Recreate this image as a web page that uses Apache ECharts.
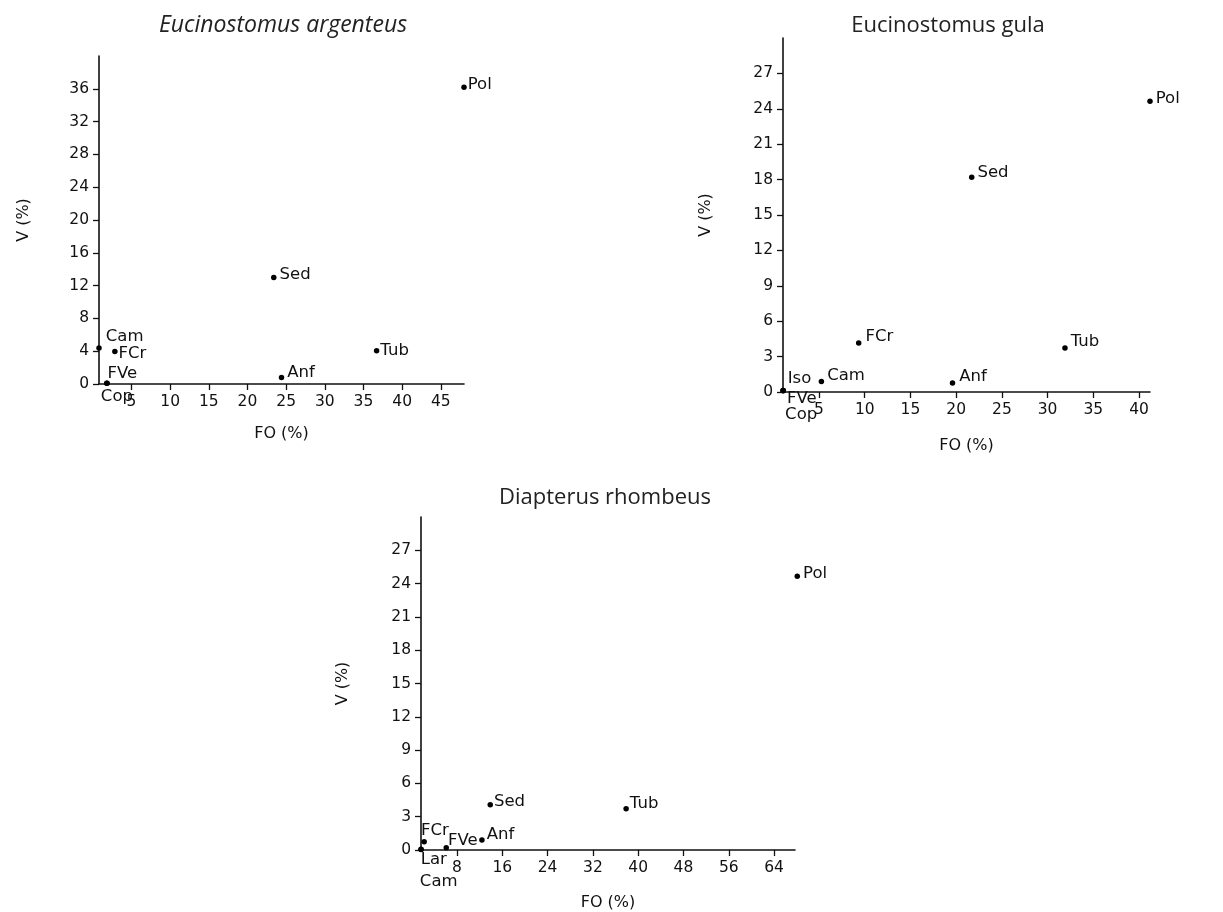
<!DOCTYPE html>
<html>
<head>
<meta charset="utf-8">
<script src="https://cdn.jsdelivr.net/npm/echarts@6/dist/echarts.min.js"></script>
<style>
html,body{margin:0;padding:0;background:#fff;}
#c{width:1223px;height:912px;}
</style>
</head>
<body>
<div id="c"></div>
<script>
// ---- Data ----
const argNames = ['Pol','Sed','Tub','Anf','Cam','FCr','FVe','Cop'];
const argFO    = [48.0, 23.4, 36.7, 24.4, 0.8, 2.85, 1.8, 1.85];
const argV     = [36.2, 13.0, 4.07, 0.8, 4.4, 3.95, 0.1, 0.08];

const gulaNames = ['Pol','Sed','FCr','Tub','Cam','Anf','Iso','FVe','Cop'];
const gulaFO    = [41.2, 21.7, 9.34, 31.9, 5.26, 19.6, 1.06, 1.08, 1.1];
const gulaV     = [24.65, 18.2, 4.15, 3.73, 0.9, 0.76, 0.13, 0.12, 0.1];

const rhoNames = ['Pol','Sed','Tub','Anf','FVe','FCr','Lar','Cam'];
const rhoFO    = [68.1, 13.87, 37.87, 12.4, 6.1, 2.2, 1.64, 1.66];
const rhoV     = [24.66, 4.07, 3.72, 0.89, 0.2, 0.74, 0.06, 0.05];

const argXTicks  = [5,10,15,20,25,30,35,40,45];
const argYTicks  = [0,4,8,12,16,20,24,28,32,36];
const gulaXTicks = [5,10,15,20,25,30,35,40];
const gulaYTicks = [0,3,6,9,12,15,18,21,24,27];
const rhoXTicks  = [8,16,24,32,40,48,56,64];
const rhoYTicks  = [0,3,6,9,12,15,18,21,24,27];

// ---- Label offsets (style) ----
const argOff  = {Pol:[0,-2],Sed:[2,-3],Tub:[0,0],Anf:[2,-5],Cam:[3,-11],FCr:[0,2],FVe:[-3,-9],Cop:[-10,13]};
const gulaOff = {Pol:[2,-2],Sed:[2,-5],FCr:[3,-6],Tub:[2,-6],Cam:[2,-6],Anf:[3,-6],Iso:[1,-12],FVe:[0,8],Cop:[-2,24]};
const rhoOff  = {Pol:[2,-3],Sed:[0,-3],Tub:[0,-5],Anf:[1,-5],FVe:[-2,-7],FCr:[-7,-11],Lar:[-4,10],Cam:[-5,32]};

const TICK_FONT = {fontFamily:'DejaVu Sans', fontSize:15.5, color:'#111'};
const NAME_FONT = {fontFamily:'DejaVu Sans', fontSize:16, color:'#111'};

function mkData(names, fo, v, off){
  return names.map((n,i)=>({name:n, value:[fo[i], v[i]], label:{offset: off[n] || [0,0]}}));
}
function xAx(gi, min, max, ticks, gap){
  return {type:'value', gridIndex:gi, min:min, max:max,
    name:'FO (%)', nameLocation:'middle', nameGap:gap, nameTextStyle:NAME_FONT,
    axisLine:{show:true, onZero:false, lineStyle:{color:'#111', width:1.6}},
    axisTick:{show:true, length:6, customValues:ticks, lineStyle:{color:'#111', width:1.3}},
    axisLabel:Object.assign({customValues:ticks, margin:10}, TICK_FONT),
    splitLine:{show:false}};
}
function yAx(gi, min, max, ticks, gap){
  return {type:'value', gridIndex:gi, min:min, max:max,
    name:'V (%)', nameLocation:'middle', nameGap:gap, nameTextStyle:NAME_FONT,
    axisLine:{show:true, onZero:false, lineStyle:{color:'#111', width:1.6}},
    axisTick:{show:true, length:6, customValues:ticks, lineStyle:{color:'#111', width:1.3}},
    axisLabel:Object.assign({customValues:ticks, margin:10}, TICK_FONT),
    splitLine:{show:false}};
}
function ser(gi, data){
  return {type:'scatter', xAxisIndex:gi, yAxisIndex:gi, data:data, symbol:'circle', symbolSize:5.5,
    clip:false, itemStyle:{color:'#000', opacity:1},
    label:{show:true, position:'right', distance:1, formatter:'{b}', fontFamily:'DejaVu Sans', fontSize:16.5, color:'#111'},
    emphasis:{disabled:true}};
}

const chart = echarts.init(document.getElementById('c'), null, {renderer:'canvas'});
chart.setOption({
  animation:false,
  backgroundColor:'#fff',
  grid:[
    {left:99, top:56, width:365, height:328},
    {left:783, top:38, width:367, height:354},
    {left:421, top:517, width:374, height:337}
  ],
  xAxis:[
    xAx(0, 0.8, 48, argXTicks, 42),
    xAx(1, 1.06, 41.2, gulaXTicks, 46),
    xAx(2, 1.64, 67.7, rhoXTicks, 45)
  ],
  yAxis:[
    yAx(0, 0, 40, argYTicks, 67),
    yAx(1, 0, 30, gulaYTicks, 69),
    yAx(2, 0, 30, rhoYTicks, 70)
  ],
  series:[
    ser(0, mkData(argNames, argFO, argV, argOff)),
    ser(1, mkData(gulaNames, gulaFO, gulaV, gulaOff)),
    ser(2, mkData(rhoNames, rhoFO, rhoV, rhoOff))
  ],
  graphic:[
    {type:'text', x:283, y:25, style:{text:'Eucinostomus argenteus', font:'italic 23px "Open Sans"', fill:'#222', align:'center', verticalAlign:'middle'}},
    {type:'text', x:948, y:26, style:{text:'Eucinostomus gula', font:'22px "Open Sans"', fill:'#222', align:'center', verticalAlign:'middle'}},
    {type:'text', x:605, y:498, style:{text:'Diapterus rhombeus', font:'22px "Open Sans"', fill:'#222', align:'center', verticalAlign:'middle'}}
  ]
});
</script>
</body>
</html>
